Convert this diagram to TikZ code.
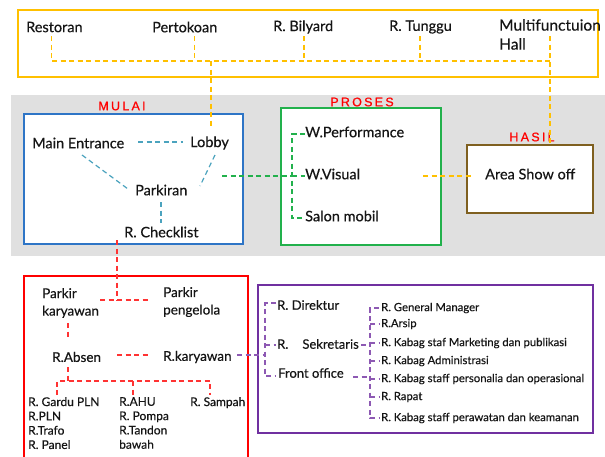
\documentclass[tikz,border=0pt]{standalone}
\usepackage{fontspec}
\setmainfont{Lato}[FakeBold=0.35]
\newfontfamily\labfont[LetterSpace=18,FakeBold=0.6]{Liberation Sans}
\usetikzlibrary{calc}
\definecolor{cyel}{HTML}{FFC000}
\definecolor{cblue}{HTML}{2E75C6}
\definecolor{cteal}{HTML}{4BA3BE}
\definecolor{cgreen}{HTML}{22B14C}
\definecolor{cbrown}{HTML}{7F6020}
\definecolor{cred}{HTML}{FF0000}
\definecolor{cpur}{HTML}{7030A0}
\definecolor{cgray}{HTML}{E0E0E0}
\definecolor{ctext}{HTML}{151515}
\begin{document}
\begin{tikzpicture}[x=1pt,y=-1pt,
  box/.style={line width=1.8pt},
  txt/.style={anchor=west,inner sep=0pt,text=ctext,font=\fontsize{14.5}{17}\selectfont,align=left},
  stxt/.style={anchor=west,inner sep=0pt,text=ctext,font=\fontsize{12}{14.3}\selectfont,align=left},
  ptxt/.style={anchor=west,inner sep=0pt,text=ctext,font=\fontsize{11.3}{13}\selectfont,align=left},
  lab/.style={inner sep=0pt,text=cred,font=\labfont\fontsize{12.5}{14}\selectfont},
  dsh/.style={line width=1.2pt,dash pattern=on 5pt off 3.5pt},
  ydash/.style={dsh,draw=cyel},
  tdash/.style={dsh,draw=cteal},
  gdash/.style={dsh,draw=cgreen},
  rdash/.style={dsh,draw=cred!80},
  pdash/.style={dsh,draw=cpur!80}]
\useasboundingbox (0,0) rectangle (605,456);
\clip (0,0) rectangle (605,456);
\fill[white] (0,0) rectangle (605,456);
% gray band
\fill[cgray] (11,95) rectangle (605,256);
% yellow box
\draw[box,draw=cyel] (18,10) rectangle (598,77);
\node[txt] (rest) at (26,27) {Restoran};
\node[txt] (pert) at (152,27) {Pertokoan};
\node[txt] (bily) at (273,27) {R. Bilyard};
\node[txt] (tung) at (389,27) {R. Tunggu};
\node[txt,anchor=north west,font=\fontsize{15.5}{19}\selectfont] (mult) at (499,19) {Multifunctuion\\Hall};
\coordinate (ja) at (51.5,61);
\coordinate (jb) at (550,61);
\draw[ydash] (51.5,36) -- (ja) -- (jb);
\draw[ydash] (194.5,36) -- (194.5,61);
\draw[ydash] (304,36) -- (304,61);
\draw[ydash] (420,36) -- (420,61);
% blue box
\draw[box,draw=cblue,fill=white] (24,114) rectangle (243,244);
\node[lab] (mulai) at (122,106) {MULAI};
\node[txt] (me) at (32,143) {Main Entrance};
\node[txt] (lobby) at (190,143) {Lobby};
\node[txt] (park) at (135,190) {Parkiran};
\node[txt] (check) at (124,232) {R. Checklist};
\draw[tdash] (138,142) -- (183,142);
\draw[tdash] (82,155) -- (128,189);
\draw[tdash] (215,155) -- (200,186);
\draw[tdash] (161,202) -- (161,223);
\draw[ydash] (211,61) -- (211,127);
% green box
\draw[box,draw=cgreen,fill=white] (281,108) rectangle (441,245);
\node[lab] (proses) at (362,102) {PROSES};
\node[txt] (wperf) at (305,132) {W.Performance};
\node[txt] (wvis) at (305,174) {W.Visual};
\node[txt] (salon) at (305,216) {Salon mobil};
\draw[gdash] (305,134) -- (292,134) -- (292,218) -- (305,218);
\draw[gdash] (292,176) -- (305,176);
\draw[gdash] (222,176) -- (292,176);
% brown box
\draw[box,draw=cbrown,fill=white] (467,145) rectangle (593,213);
\node[lab] (hasil) at (532,137) {HASIL};
\node[txt] (area) at (485,174) {Area Show off};
\draw[ydash] (423,176) -- (472,176);
\draw[ydash] (550,36) -- (550,144);
% red box
\draw[box,draw=cred] (24,276) rectangle (248,480);
\node[txt,font=\fontsize{13.5}{17.5}\selectfont] (pk) at (42,303) {Parkir\\karyawan};
\node[txt,font=\fontsize{13.5}{17.5}\selectfont] (pp) at (163,302) {Parkir\\pengelola};
\node[txt,font=\fontsize{13.5}{16}\selectfont] (abs) at (52,357) {R.Absen};
\node[txt,font=\fontsize{13.5}{16}\selectfont] (kar) at (163,357) {R.karyawan};
\draw[rdash] (117,240) -- (117,300);
\draw[rdash] (100,300) -- (150,300);
\draw[rdash] (68,323) -- (68,337);
\draw[rdash] (68,367) -- (68,381);
\draw[rdash] (117,355) -- (150,355);
\draw[rdash] (57,395) -- (57,381) -- (210,381) -- (210,395);
\draw[rdash] (133,381) -- (133,395);
\node[stxt,anchor=north west] (gardu) at (28,397) {R. Gardu PLN\\R.PLN\\R.Trafo\\R. Panel};
\node[stxt,anchor=north west] (ahu) at (119,397) {R.AHU\\R. Pompa\\R.Tandon\\bawah};
\node[stxt,anchor=north west] (samp) at (190,397) {R. Sampah};
% purple box
\draw[box,draw=cpur] (258,285) rectangle (593,433);
\draw[pdash] (237,355) -- (265,355);
\node[txt,font=\fontsize{13}{16}\selectfont] (dir) at (277,305) {R. Direktur};
\node[txt,font=\fontsize{13}{16}\selectfont] (sek) at (277,344) {R.\hspace{14pt}Sekretaris};
\node[txt,font=\fontsize{13}{16}\selectfont] (fo) at (278,373) {Front office};
\draw[pdash] (276,303) -- (265,303) -- (265,376) -- (276,376);
\draw[pdash] (265,345) -- (276,345);
\draw[pdash] (353,377) -- (370,377);
\draw[pdash] (361,345) -- (370,345);
\draw[pdash] (379,308) -- (370,308) -- (370,418) -- (379,418);
\foreach \yy in {324,343,361,379,397} \draw[pdash] (370,\yy) -- (379,\yy);
\node[ptxt] (gm) at (381,308) {R. General Manager};
\node[ptxt] (ars) at (381,324) {R.Arsip};
\node[ptxt] (mkt) at (381,343) {R. Kabag staf  Marketing dan publikasi};
\node[ptxt] (adm) at (381,361) {R. Kabag Administrasi};
\node[ptxt] (pers) at (381,379) {R. Kabag staff personalia dan operasional};
\node[ptxt] (rap) at (381,397) {R. Rapat};
\node[ptxt] (raw) at (381,418) {R. Kabag staff perawatan dan keamanan};
\end{tikzpicture}
\end{document}
